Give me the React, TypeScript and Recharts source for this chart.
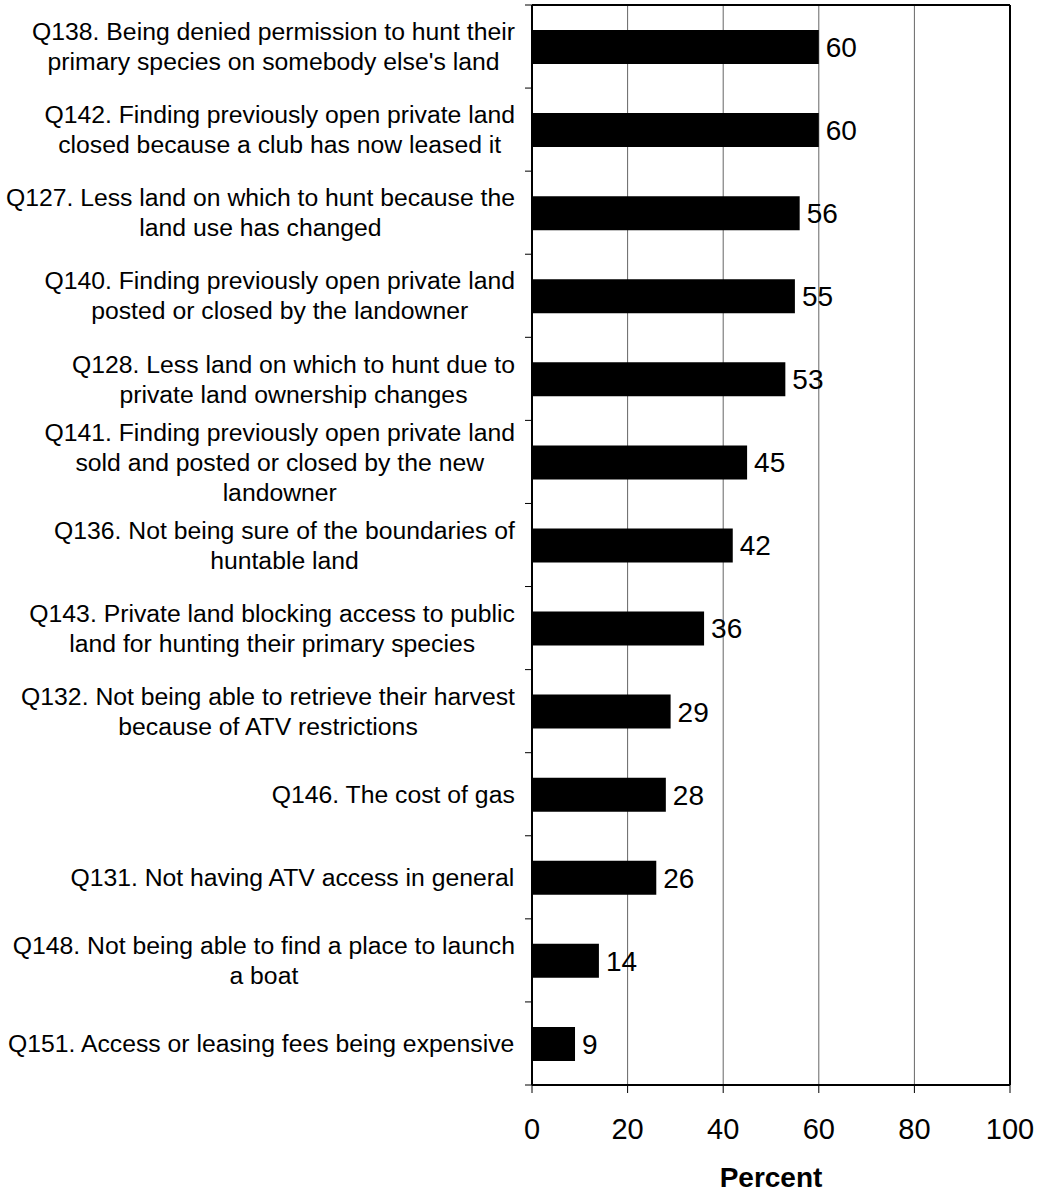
import React from 'react';
import { BarChart, Bar, XAxis, YAxis, CartesianGrid, LabelList } from 'recharts';

const categories: string[][] = [
  ['Q138. Being denied permission to hunt their', "primary species on somebody else's land"],
  ['Q142. Finding previously open private land', 'closed because a club has now leased it'],
  ['Q127. Less land on which to hunt because the', 'land use has changed'],
  ['Q140. Finding previously open private land', 'posted or closed by the landowner'],
  ['Q128. Less land on which to hunt due to', 'private land ownership changes'],
  ['Q141. Finding previously open private land', 'sold and posted or closed by the new', 'landowner'],
  ['Q136. Not being sure of the boundaries of', 'huntable land'],
  ['Q143. Private land blocking access to public', 'land for hunting their primary species'],
  ['Q132. Not being able to retrieve their harvest', 'because of ATV restrictions'],
  ['Q146. The cost of gas'],
  ['Q131. Not having ATV access in general'],
  ['Q148. Not being able to find a place to launch', 'a boat'],
  ['Q151. Access or leasing fees being expensive'],
];
const values: number[] = [60, 60, 56, 55, 53, 45, 42, 36, 29, 28, 26, 14, 9];
const xTicks: number[] = [0, 20, 40, 60, 80, 100];

const data = categories.map((lines, i) => ({ name: lines.join(' '), value: values[i] }));
const linesByName: Record<string, string[]> = {};
categories.forEach((l) => { linesByName[l.join(' ')] = l; });

const W = 1039;
const H = 1192;
const M = { top: 5, right: 29, bottom: 0, left: 0 };
const Y_W = 532;
const X_H = 107;
const PLOT_LEFT = M.left + Y_W;
const PLOT_H = H - M.top - M.bottom - X_H;
const BAND = PLOT_H / categories.length;
const FONT = "'Liberation Sans', Arial, Helvetica, sans-serif";
const LABEL_SIZE = 24.75;
const LINE_H = 30;

let ctx: CanvasRenderingContext2D | null = null;
function measure(s: string): number {
  if (!ctx) {
    const c = document.createElement('canvas');
    ctx = c.getContext('2d');
  }
  if (!ctx) return s.length * LABEL_SIZE * 0.5;
  ctx.font = `${LABEL_SIZE}px 'Liberation Sans', Arial, sans-serif`;
  return ctx.measureText(s).width;
}

const CatTick = (props: any) => {
  const { y, payload, index } = props;
  const lines = linesByName[payload.value] || [String(payload.value)];
  const maxW = Math.max(...lines.map(measure));
  const right = PLOT_LEFT - 17;
  const cx = right - maxW / 2;
  const n = lines.length;
  const tickX1 = PLOT_LEFT - 7;
  return (
    <g>
      <line x1={tickX1} x2={PLOT_LEFT} y1={y - BAND / 2} y2={y - BAND / 2} stroke="#000" strokeWidth={1} />
      {index === categories.length - 1 && (
        <line x1={tickX1} x2={PLOT_LEFT} y1={y + BAND / 2} y2={y + BAND / 2} stroke="#000" strokeWidth={1} />
      )}
      {lines.map((ln, i) => (
        <text
          key={i}
          x={cx}
          y={y + (i - (n - 1) / 2) * LINE_H}
          dy="0.35em"
          textAnchor="middle"
          fontSize={LABEL_SIZE}
          fontFamily={FONT}
          fill="#000"
        >
          {ln}
        </text>
      ))}
    </g>
  );
};

export default function App() {
  return (
    <div style={{ position: 'absolute', left: 0, top: 0, background: '#fff' }}>
      <BarChart
        width={W}
        height={H}
        data={data}
        layout="vertical"
        margin={M}
        barCategoryGap={0}
      >
        <CartesianGrid horizontal={false} vertical={true} stroke="#666" strokeWidth={1} />
        <CartesianGrid
          horizontal={true}
          vertical={true}
          stroke="#000"
          strokeWidth={2}
          horizontalCoordinatesGenerator={(p: any) => [p.offset.top]}
          verticalCoordinatesGenerator={(p: any) => [p.offset.left + p.offset.width]}
        />
        <XAxis
          type="number"
          domain={[0, 100]}
          ticks={xTicks}
          height={X_H}
          axisLine={{ stroke: '#000', strokeWidth: 2 }}
          tickLine={{ stroke: '#000', strokeWidth: 1 }}
          tickSize={8}
          tickMargin={25}
          tick={{ fontSize: 29, fill: '#000', fontFamily: FONT }}
          label={{
            value: 'Percent',
            position: 'insideBottom',
            offset: 5,
            fontSize: 28,
            fontWeight: 'bold',
            fill: '#000',
            fontFamily: FONT,
          }}
        />
        <YAxis
          type="category"
          dataKey="name"
          width={Y_W}
          axisLine={{ stroke: '#000', strokeWidth: 2 }}
          tickLine={false}
          interval={0}
          tick={<CatTick />}
        />
        <Bar dataKey="value" fill="#000" barSize={34} isAnimationActive={false}>
          <LabelList
            dataKey="value"
            position="right"
            offset={7}
            fontSize={28}
            fill="#000"
            fontFamily={FONT}
          />
        </Bar>
      </BarChart>
    </div>
  );
}
